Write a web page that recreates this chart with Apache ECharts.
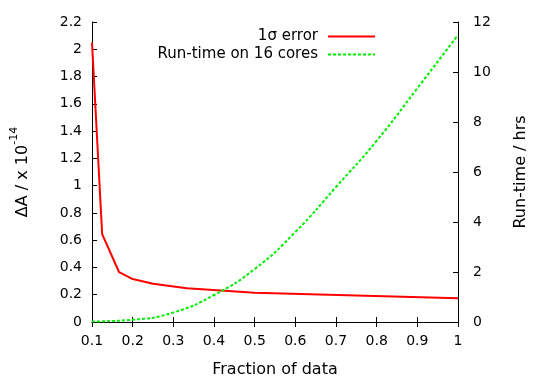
<!DOCTYPE html>
<html>
<head>
<meta charset="utf-8">
<script src="https://cdn.jsdelivr.net/npm/echarts@6/dist/echarts.min.js"></script>
<style>
  html, body { margin: 0; padding: 0; background: #fff; }
  #chart { width: 538px; height: 377px; }
</style>
</head>
<body>
<div id="chart"></div>
<script>
// 1-sigma error (x 10^-14) vs fraction of data
const errFraction = [0.1, 0.125, 0.1667, 0.2, 0.25, 0.3333, 0.5, 1.0];
const errValue = [2.05, 0.645, 0.365, 0.315, 0.28, 0.247, 0.215, 0.175];

// run-time (hrs) on 16 cores
const timeFraction = [0.1, 0.2, 0.3, 0.4, 0.5, 0.6, 0.7, 0.8, 0.9, 1.0];
const timeHours = [0.02, 0.09, 0.38, 1.08, 2.12, 3.6, 5.4, 7.25, 9.35, 11.48];

const seriesNames = ['1σ error', 'Run-time on 16 cores'];

const font = 'DejaVu Sans, sans-serif';
const chart = echarts.init(document.getElementById('chart'));

const axisLine = { show: true, lineStyle: { color: '#000', width: 1 } };
const tick = { show: true, inside: true, length: 5, lineStyle: { color: '#000' } };
const label = { color: '#000', fontSize: 14, fontFamily: font };
const title = { color: '#000', fontSize: 16, fontFamily: font };

chart.setOption({
  animation: false,
  backgroundColor: '#fff',
  grid: { left: 92, right: 80, top: 22, bottom: 55, outerBoundsMode: 'none' },
  legend: {
    data: seriesNames,
    orient: 'vertical',
    align: 'right',
    right: 157,
    top: 24,
    itemWidth: 47,
    itemHeight: 10,
    itemGap: 3,
    itemStyle: { opacity: 0 },
    textStyle: { color: '#000', fontSize: 15, fontFamily: font, padding: [0, 5, 0, 0] },
  },
  xAxis: [
    {
      type: 'value',
      min: 0.1,
      max: 1,
      interval: 0.1,
      position: 'bottom',
      name: 'Fraction of data',
      nameLocation: 'middle',
      nameGap: 40,
      nameTextStyle: title,
      axisLine,
      axisTick: tick,
      axisLabel: { ...label, margin: 12, formatter: (v) => String(+v.toFixed(1)) },
      splitLine: { show: false },
    },
    {
      type: 'value',
      min: 0.1,
      max: 1,
      interval: 0.1,
      position: 'top',
      axisLine,
      axisTick: tick,
      axisLabel: { show: false },
      splitLine: { show: false },
    },
  ],
  yAxis: [
    {
      type: 'value',
      min: 0,
      max: 2.2,
      interval: 0.2,
      position: 'left',
      name: '{b|ΔA / x 10}{s|-14}',
      nameLocation: 'middle',
      nameRotate: 90,
      nameGap: 61,
      nameTextStyle: {
        ...title,
        rich: {
          b: { fontSize: 16, fontFamily: font, color: '#000', verticalAlign: 'bottom', lineHeight: 22 },
          s: { fontSize: 11, fontFamily: font, color: '#000', verticalAlign: 'top', lineHeight: 22 },
        },
      },
      axisLine,
      axisTick: tick,
      axisLabel: { ...label, margin: 10, formatter: (v) => String(+v.toFixed(1)) },
      splitLine: { show: false },
    },
    {
      type: 'value',
      min: 0,
      max: 12,
      interval: 2,
      position: 'right',
      name: 'Run-time / hrs',
      nameLocation: 'middle',
      nameRotate: 90,
      nameGap: 55,
      nameTextStyle: title,
      axisLine,
      axisTick: tick,
      axisLabel: { ...label, margin: 15 },
      splitLine: { show: false },
    },
  ],
  series: [
    {
      name: seriesNames[0],
      type: 'line',
      yAxisIndex: 0,
      data: errFraction.map((f, i) => [f, errValue[i]]),
      symbol: 'none',
      lineStyle: { color: '#ff0000', width: 2 },
      itemStyle: { color: '#ff0000' },
    },
    {
      name: seriesNames[1],
      type: 'line',
      yAxisIndex: 1,
      data: timeFraction.map((f, i) => [f, timeHours[i]]),
      smooth: true,
      symbol: 'none',
      lineStyle: { color: '#00ee00', width: 2, type: [3, 2] },
      itemStyle: { color: '#00ee00' },
    },
  ],
});
</script>
</body>
</html>
